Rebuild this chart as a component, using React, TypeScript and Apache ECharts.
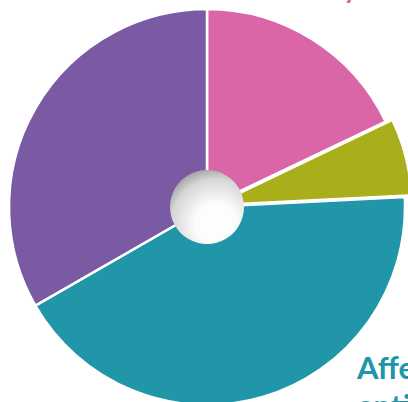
import React, { useEffect, useRef } from "react";
import * as echarts from "echarts";

const categories = ["Family", "Other", "Affected", "Community"];
const values = [17.9, 6.3, 42.5, 33.3];
const colors = ["#da66a8", "#a8af1b", "#2096a8", "#7b5aa4"];
const selectedCategory = "Other";

export default function App() {
  const ref = useRef<HTMLDivElement>(null);
  useEffect(() => {
    document.body.style.margin = "0";
    const chart = echarts.init(ref.current!, undefined, { renderer: "svg" });
    chart.setOption({
      animation: false,
      backgroundColor: "#ffffff",
      series: [
        {
          type: "pie",
          center: [207, 207],
          radius: [0, 198],
          startAngle: 90,
          clockwise: true,
          selectedMode: "single",
          selectedOffset: 7,
          label: { show: false },
          labelLine: { show: false },
          itemStyle: { borderColor: "#ffffff", borderWidth: 2.5 },
          select: { itemStyle: { borderColor: "#ffffff", borderWidth: 2.5 } },
          emphasis: { disabled: true },
          data: categories.map((c, i) => ({
            name: c,
            value: values[i],
            selected: c === selectedCategory,
            itemStyle: { color: colors[i] },
            select: { itemStyle: { color: colors[i] } },
          })),
        },
        {
          type: "pie",
          center: [207, 207],
          radius: [0, 37],
          silent: true,
          label: { show: false },
          labelLine: { show: false },
          itemStyle: {
            color: {
              type: "radial",
              x: 0.62,
              y: 0.72,
              r: 0.8,
              colorStops: [
                { offset: 0, color: "#ffffff" },
                { offset: 0.35, color: "#fcfcfc" },
                { offset: 0.75, color: "#d6d6d6" },
                { offset: 1, color: "#939393" },
              ],
            },
          },
          data: [{ name: "center", value: 1 }],
        },
      ],
      graphic: [
        {
          type: "text",
          x: 357,
          y: 348,
          style: {
            text: "Affected\nentities",
            font: "bold 31px Lato",
            fill: "#2096a8",
            lineHeight: 38,
            verticalAlign: "top",
          },
        },
        {
          type: "text",
          x: 358,
          y: -28,
          style: {
            text: "Family",
            font: "bold 28px Lato",
            fill: "#da66a8",
            align: "right",
            lineHeight: 30,
            verticalAlign: "top",
          },
        },
      ],
    });
    return () => chart.dispose();
  }, []);
  return <div ref={ref} style={{ width: 408, height: 402 }} />;
}
